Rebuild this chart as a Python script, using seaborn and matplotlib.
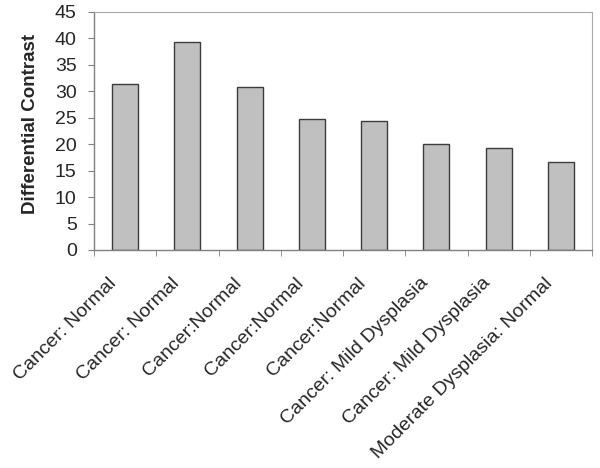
import matplotlib
matplotlib.use("Agg")
import matplotlib.pyplot as plt
import matplotlib.transforms as mtransforms
import pandas as pd
import seaborn as sns
from matplotlib.ticker import FixedLocator, MultipleLocator

CATEGORIES = [
    "Cancer: Normal",
    "Cancer: Normal ",
    "Cancer:Normal",
    "Cancer:Normal ",
    "Cancer:Normal  ",
    "Cancer: Mild Dysplasia",
    "Cancer: Mild Dysplasia ",
    "Moderate Dysplasia: Normal",
]
VALUES = [31.4, 39.3, 30.9, 24.8, 24.3, 20.0, 19.2, 16.7]
Y_LABEL = "Differential Contrast"


def main() -> None:
    sns.set_style("white")
    plt.rcParams["font.family"] = ["Liberation Sans", "DejaVu Sans"]

    df = pd.DataFrame({"pair": CATEGORIES, "contrast": VALUES})

    fig = plt.figure(figsize=(6.0, 4.68), dpi=100)
    # plot area in pixels: x 94..592, y 12..250
    ax = fig.add_axes([94 / 600, 1 - 250 / 468, 498 / 600, 238 / 468])
    sns.barplot(
        data=df,
        x="pair",
        y="contrast",
        color="#c0c0c0",
        edgecolor="#3c3c3c",
        linewidth=1.0,
        width=0.42,
        saturation=1,
        ax=ax,
    )

    ax.set_xlim(-0.5, len(CATEGORIES) - 0.5)
    ax.set_ylim(0, 45)
    ax.yaxis.set_major_locator(MultipleLocator(5))
    ax.set_xlabel("")
    ax.set_ylabel(Y_LABEL, fontsize=13.5, fontweight="bold")
    ax.yaxis.set_label_coords(-0.110, 0.531)

    labels = [c.strip() for c in CATEGORIES]
    ax.set_xticks(range(len(labels)))
    ax.set_xticklabels(labels, rotation=45, ha="right", va="center",
                       rotation_mode="anchor", fontsize=14)
    ax.xaxis.set_minor_locator(FixedLocator([i - 0.5 for i in range(len(labels) + 1)]))
    ax.tick_params(axis="x", which="major", length=0, pad=22)
    ax.tick_params(axis="x", which="minor", bottom=True, length=4, color="#808080", direction="out")
    ax.tick_params(axis="y", left=True, length=4.5, color="#808080", direction="out",
                   labelsize=14, pad=8)

    # Excel puts the end of each label a bit left of the category centre
    fig.canvas.draw()
    shift = mtransforms.ScaledTranslation(-0.11, 0, fig.dpi_scale_trans)
    for lbl in ax.get_xticklabels():
        lbl.set_transform(lbl.get_transform() + shift)

    for side in ["left", "bottom"]:
        ax.spines[side].set_color("#808080")
        ax.spines[side].set_linewidth(1.0)
    for side in ["top", "right"]:
        ax.spines[side].set_color("#a8a8a8")
        ax.spines[side].set_linewidth(0.8)

    fig.savefig("out.png", dpi=100, facecolor="white")
    plt.close(fig)


if __name__ == "__main__":
    main()
